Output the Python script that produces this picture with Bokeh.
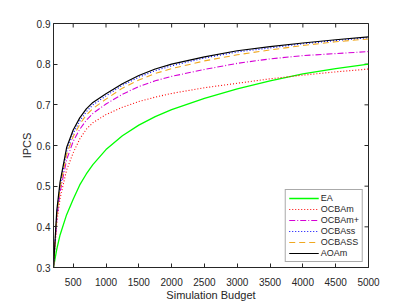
import math
from bokeh.plotting import figure
from bokeh.models import FixedTicker, Range1d, Legend, LegendItem
from bokeh.embed import file_html
from bokeh.resources import INLINE

budget = [200, 250, 300, 400, 500, 600, 700, 800, 1000, 1250, 1500, 1750, 2000, 2500, 3000, 3500, 4000, 4500, 5000]
ea = [0.300, 0.345, 0.380, 0.430, 0.468, 0.503, 0.530, 0.553, 0.590, 0.624, 0.650, 0.671, 0.688, 0.716, 0.739, 0.759, 0.776, 0.789, 0.800]
ocbam = [0.300, 0.410, 0.470, 0.540, 0.582, 0.616, 0.640, 0.656, 0.676, 0.694, 0.708, 0.719, 0.728, 0.742, 0.753, 0.764, 0.773, 0.781, 0.788]
ocbam_plus = [0.300, 0.420, 0.485, 0.565, 0.610, 0.640, 0.662, 0.679, 0.702, 0.726, 0.745, 0.759, 0.770, 0.787, 0.802, 0.813, 0.821, 0.826, 0.831]
ocbass_lower = [0.300, 0.430, 0.500, 0.585, 0.630, 0.660, 0.683, 0.700, 0.722, 0.748, 0.768, 0.784, 0.796, 0.815, 0.830, 0.840, 0.850, 0.858, 0.865]
ocbass_upper = [0.300, 0.425, 0.495, 0.578, 0.622, 0.652, 0.675, 0.691, 0.714, 0.741, 0.761, 0.777, 0.789, 0.808, 0.823, 0.835, 0.846, 0.855, 0.862]
aoam = [0.300, 0.440, 0.510, 0.595, 0.638, 0.668, 0.690, 0.706, 0.727, 0.752, 0.772, 0.788, 0.800, 0.818, 0.833, 0.843, 0.852, 0.860, 0.867]

x_ticks = [500, 1000, 1500, 2000, 2500, 3000, 3500, 4000, 4500, 5000]
y_ticks = [0.3, 0.4, 0.5, 0.6, 0.7, 0.8, 0.9]
x_label = "Simulation Budget"
y_label = "IPCS"
names = ["EA", "OCBAm", "OCBAm+", "OCBAss", "OCBASS", "AOAm"]

FONT = "Liberation Sans"
AX = "#262626"

x_min, x_max = budget[0], budget[-1]
y_min, y_max = y_ticks[0], y_ticks[-1]

p = figure(width=407, height=305, output_backend="svg", toolbar_location=None,
           x_range=Range1d(x_min, x_max), y_range=Range1d(y_min, y_max),
           min_border_left=53, min_border_right=39, min_border_top=23, min_border_bottom=38)
p.xgrid.visible = False
p.ygrid.visible = False
p.outline_line_color = AX
p.outline_line_width = 1
p.background_fill_color = "white"

for ax in (p.xaxis[0], p.yaxis[0]):
    ax.major_tick_in = 4
    ax.major_tick_out = 0
    ax.minor_tick_in = 0
    ax.minor_tick_out = 0
    ax.axis_line_color = AX
    ax.major_tick_line_color = AX
    ax.major_label_text_font = FONT
    ax.major_label_text_font_size = "10px"
    ax.major_label_text_color = AX
    ax.axis_label_text_font = FONT
    ax.axis_label_text_font_size = "11px"
    ax.axis_label_text_font_style = "normal"
    ax.axis_label_text_color = AX

p.xaxis.ticker = FixedTicker(ticks=x_ticks)
p.yaxis.ticker = FixedTicker(ticks=y_ticks)
p.xaxis.axis_label = x_label
p.yaxis.axis_label = y_label
p.xaxis.major_label_standoff = 10
p.xaxis.axis_label_standoff = 0
p.yaxis.major_label_standoff = 3
p.yaxis.axis_label_standoff = 1

# inward ticks on the top and right edges (clipped to the frame, so only the inner half shows)
p.scatter(x=x_ticks, y=[y_max] * len(x_ticks), marker="dash", angle=math.pi / 2,
          size=8, line_color=AX, line_width=1)
p.scatter(x=[x_max] * len(y_ticks), y=y_ticks, marker="dash",
          size=8, line_color=AX, line_width=1)

r_ea = p.line(budget, ea, line_color="#00ff00", line_width=1.3)
r_om = p.line(budget, ocbam, line_color="#ff0000", line_width=1.1, line_dash="1 2")
r_omp = p.line(budget, ocbam_plus, line_color="#d600d6", line_width=1.1, line_dash="6 2 1 2")
r_ss = p.line(budget, ocbass_lower, line_color="#0000ff", line_width=1.1, line_dash="1 2")
r_SS = p.line(budget, ocbass_upper, line_color="#f0a820", line_width=1.1, line_dash="6 4")
r_ao = p.line(budget, aoam, line_color="#000000", line_width=1.2)

renderers = [r_ea, r_om, r_omp, r_ss, r_SS, r_ao]
legend = Legend(items=[LegendItem(label=n, renderers=[r]) for n, r in zip(names, renderers)],
                location="bottom_right")
legend.label_text_font = FONT
legend.label_text_font_size = "9px"
legend.label_text_color = AX
legend.glyph_width = 30
legend.glyph_height = 10
legend.label_height = 10
legend.label_standoff = 2
legend.spacing = 1
legend.padding = 3
legend.margin = 5
legend.border_line_color = "#555555"
legend.border_line_width = 1
legend.background_fill_alpha = 1
p.add_layout(legend, "center")

open("out.html", "w").write(file_html(p, INLINE))
